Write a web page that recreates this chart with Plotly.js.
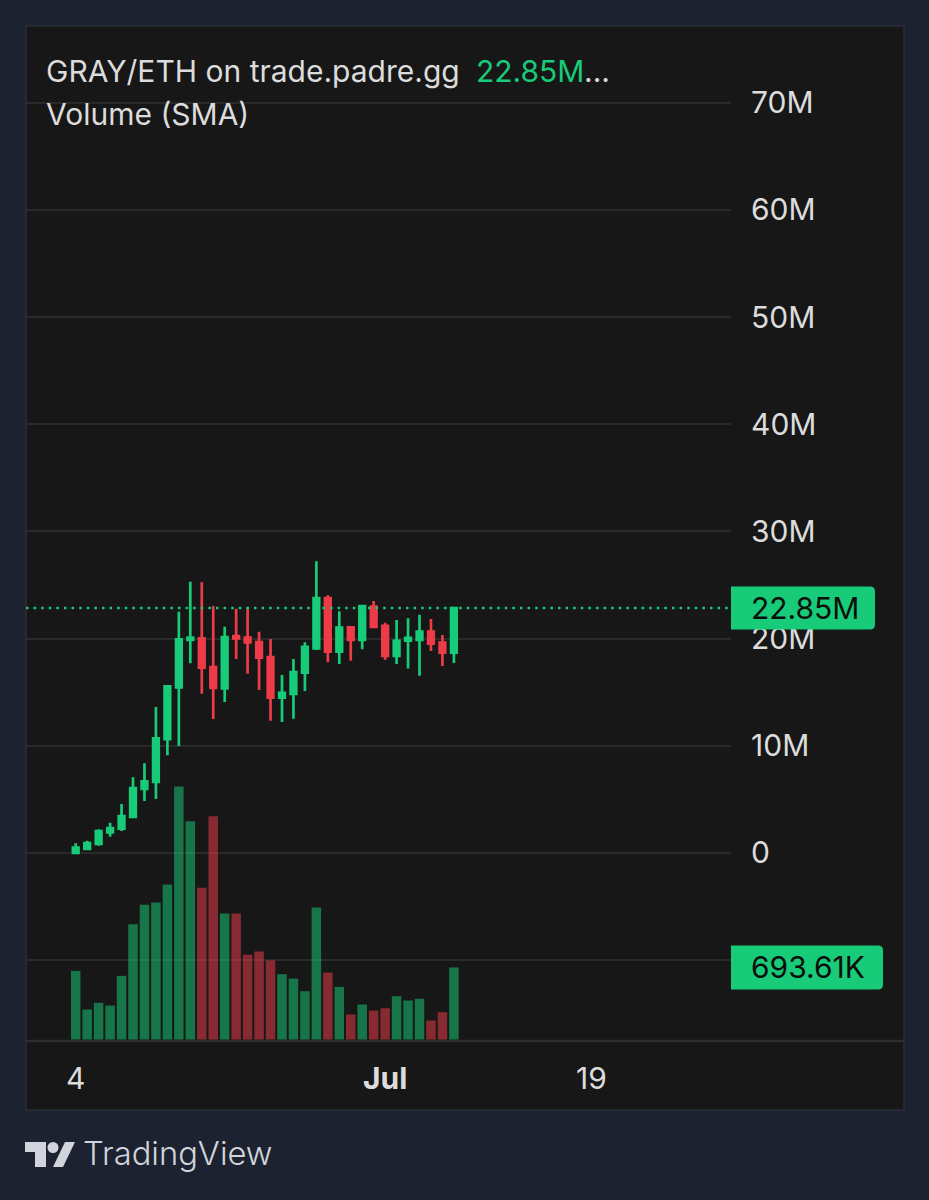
<!DOCTYPE html>
<html>
<head>
<meta charset="utf-8">
<script src="https://cdn.plot.ly/plotly-3.0.1.min.js"></script>
<style>html,body{margin:0;padding:0;background:#1d2230;}#c{width:929px;height:1200px;}</style>
</head>
<body>
<div id="c"></div>
<script>
// Daily sessions beginning 4 June
const dates = ["2025-06-04","2025-06-05","2025-06-06","2025-06-07","2025-06-08","2025-06-09","2025-06-10","2025-06-11","2025-06-12","2025-06-13","2025-06-14","2025-06-15","2025-06-16","2025-06-17","2025-06-18","2025-06-19","2025-06-20","2025-06-21","2025-06-22","2025-06-23","2025-06-24","2025-06-25","2025-06-26","2025-06-27","2025-06-28","2025-06-29","2025-06-30","2025-07-01","2025-07-02","2025-07-03","2025-07-04","2025-07-05","2025-07-06","2025-07-07"];
// Prices in millions
const open  = [0.0,0.37,0.84,1.93,2.27,3.36,5.97,6.62,10.63,15.45,19.87,20.02,17.35,15.36,20.24,20.09,19.68,18.28,14.49,14.83,16.82,19.09,23.79,18.78,21.05,19.87,22.98,21.18,18.38,19.81,19.87,20.65,19.62,18.69];
const high  = [0.90,1.15,2.21,2.83,4.57,7.06,8.36,13.62,15.58,22.51,25.31,25.25,23.04,21.11,22.79,22.92,20.65,19.96,16.60,18.10,19.65,27.21,24.04,22.54,21.18,23.13,23.51,21.49,21.73,21.89,22.23,21.83,20.34,22.92];
const low   = [0.0,0.37,0.68,1.52,2.05,3.36,4.85,5.04,9.11,9.98,17.69,14.86,12.50,14.09,18.10,16.73,15.21,12.34,12.22,12.53,15.11,18.94,17.79,17.63,17.94,19.00,20.96,18.03,17.63,17.20,16.54,18.84,17.44,17.72];
const close = [0.50,0.93,2.05,2.33,3.45,6.06,6.69,10.70,15.55,19.93,20.09,17.29,15.39,20.15,20.02,19.65,18.22,14.49,14.93,16.88,19.22,23.79,18.78,21.02,19.87,23.04,21.08,18.38,19.78,20.06,20.65,19.53,18.69,22.85];
// Volume in thousands
const volume = [661,289,353,327,613,1110,1297,1319,1493,2436,2102,1461,2150,1213,1213,816,847,762,629,587,465,1271,645,507,241,337,279,301,417,376,392,183,263,693.61];
// Axis labels
const priceTicks = [-10,0,10,20,30,40,50,60,70];
const priceLabels = ["","0","10M","20M","30M","40M","50M","60M","70M"];
const dateTicks = ["2025-06-04","2025-07-01","2025-07-19"];
const dateLabels = ["4","<b>Jul</b>","19"];
const lastPrice = 22.85, lastPriceText = "22.85M";
const lastVolume = 693.61, lastVolumeText = "693.61K";

const FONT = "Inter, 'Noto Sans', sans-serif";
const FS = 30;
const GREEN = "#17cb79", RED = "#ee3b48";
const L = 26, R = 731, T = 26, B = 1041;
const px = v => (v - L) / (R - L), py = v => (B - v) / (B - T);
const text = (s, x, y, color, extra) => Object.assign({
  text: s, xref: "paper", yref: "paper", x: px(x), y: py(y), xanchor: "left", yanchor: "middle",
  showarrow: false, font: {family: FONT, size: FS, color: color}
}, extra || {});
const tag = (w, h) => `M 0 ${-h/2} L ${w-5} ${-h/2} Q ${w} ${-h/2} ${w} ${-h/2+5} L ${w} ${h/2-5} Q ${w} ${h/2} ${w-5} ${h/2} L 0 ${h/2} Z`;
const poly = pts => "M " + pts.map(p => px(p[0]) + " " + py(p[1])).join(" L ") + " Z";

const volColors = close.map((c, i) => c >= open[i] ? "rgba(23,203,121,0.52)" : "rgba(238,59,72,0.52)");

const traces = [
  {type: "candlestick", x: dates, open, high, low, close, xaxis: "x", yaxis: "y",
   width: 0.86 * 86400000, whiskerwidth: 0, hoverinfo: "skip",
   increasing: {line: {color: GREEN, width: 2.7}, fillcolor: GREEN},
   decreasing: {line: {color: RED, width: 2.7}, fillcolor: RED}},
  {type: "bar", x: dates, y: volume, xaxis: "x", yaxis: "y2", marker: {color: volColors, line: {width: 0}}, hoverinfo: "skip"}
];

const layout = {
  width: 929, height: 1200, showlegend: false, bargap: 0.17,
  paper_bgcolor: "#1d2230", plot_bgcolor: "#171717",
  margin: {l: L, r: 929 - R, t: T, b: 1200 - B, pad: 0},
  font: {family: FONT, color: "#dcdcdc", size: FS},
  xaxis: {type: "date", range: ["2025-05-30 15:54", "2025-07-31 04:20"], rangeslider: {visible: false},
    showgrid: false, zeroline: false, showline: false, ticks: "",
    tickmode: "array", tickvals: dateTicks, ticktext: dateLabels, ticklabelstandoff: 17,
    tickfont: {family: FONT, size: FS, color: "#dcdcdc"}},
  yaxis: {side: "right", range: [-17.54, 77.15], showgrid: true, gridcolor: "#2a2a2a", gridwidth: 2,
    zeroline: false, showline: false, ticks: "", tickmode: "array", tickvals: priceTicks, ticktext: priceLabels,
    ticklabelstandoff: 19, tickfont: {family: FONT, size: FS, color: "#dcdcdc"}},
  yaxis2: {overlaying: "y", side: "right", visible: false, range: [-14.4, 9760], fixedrange: true},
  shapes: [
    {type: "rect", layer: "below", xref: "paper", yref: "paper", x0: px(26), x1: px(904), y0: py(26), y1: py(1110),
     fillcolor: "#171717", line: {color: "#2a2e39", width: 1.5}},
    {type: "line", layer: "below", xref: "paper", yref: "paper", x0: px(26), x1: px(904), y0: 0, y1: 0, line: {color: "#2e2e2e", width: 2.5}},
    {type: "line", xref: "paper", yref: "y", x0: 0, x1: 1, y0: lastPrice, y1: lastPrice, line: {color: GREEN, width: 2.5, dash: "2.5px,5.1px"}},
    {type: "path", xref: "paper", yref: "y", xsizemode: "pixel", ysizemode: "pixel", xanchor: 1, yanchor: lastPrice,
     path: tag(144, 43), fillcolor: GREEN, line: {width: 0}},
    {type: "path", xref: "paper", yref: "y2", xsizemode: "pixel", ysizemode: "pixel", xanchor: 1, yanchor: lastVolume,
     path: tag(152, 44), fillcolor: GREEN, line: {width: 0}},
    {type: "path", xref: "paper", yref: "paper", path: poly([[25,1142],[46,1142],[46,1167],[35,1167],[35,1152],[25,1152]]), fillcolor: "#d1d4dc", line: {width: 0}},
    {type: "circle", xref: "paper", yref: "paper", x0: px(47.5), x1: px(58.5), y0: py(1153), y1: py(1142), fillcolor: "#d1d4dc", line: {width: 0}},
    {type: "path", xref: "paper", yref: "paper", path: poly([[65,1142],[75,1142],[63,1167],[53,1167]]), fillcolor: "#d1d4dc", line: {width: 0}}
  ],
  annotations: [
    text("GRAY/ETH on trade.padre.gg", 44, 71, "#dcdcdc"),
    text("22.85M", 474, 71, GREEN),
    text("...", 582, 71, "#dcdcdc"),
    text("Volume (SMA)", 44, 114, "#dcdcdc"),
    {text: lastPriceText, xref: "paper", yref: "y", x: 1, y: lastPrice, xanchor: "left", yanchor: "middle", xshift: 18, showarrow: false,
     font: {family: FONT, size: FS, color: "#0b0f0c"}},
    {text: lastVolumeText, xref: "paper", yref: "y2", x: 1, y: lastVolume, xanchor: "left", yanchor: "middle", xshift: 18, showarrow: false,
     font: {family: FONT, size: FS, color: "#0b0f0c"}},
    text("TradingView", 81, 1153, "#d1d4dc", {font: {family: FONT, size: 32.7, color: "#d1d4dc", weight: 300}})
  ]
};
Plotly.newPlot("c", traces, layout, {displayModeBar: false, staticPlot: true});
</script>
</body>
</html>
